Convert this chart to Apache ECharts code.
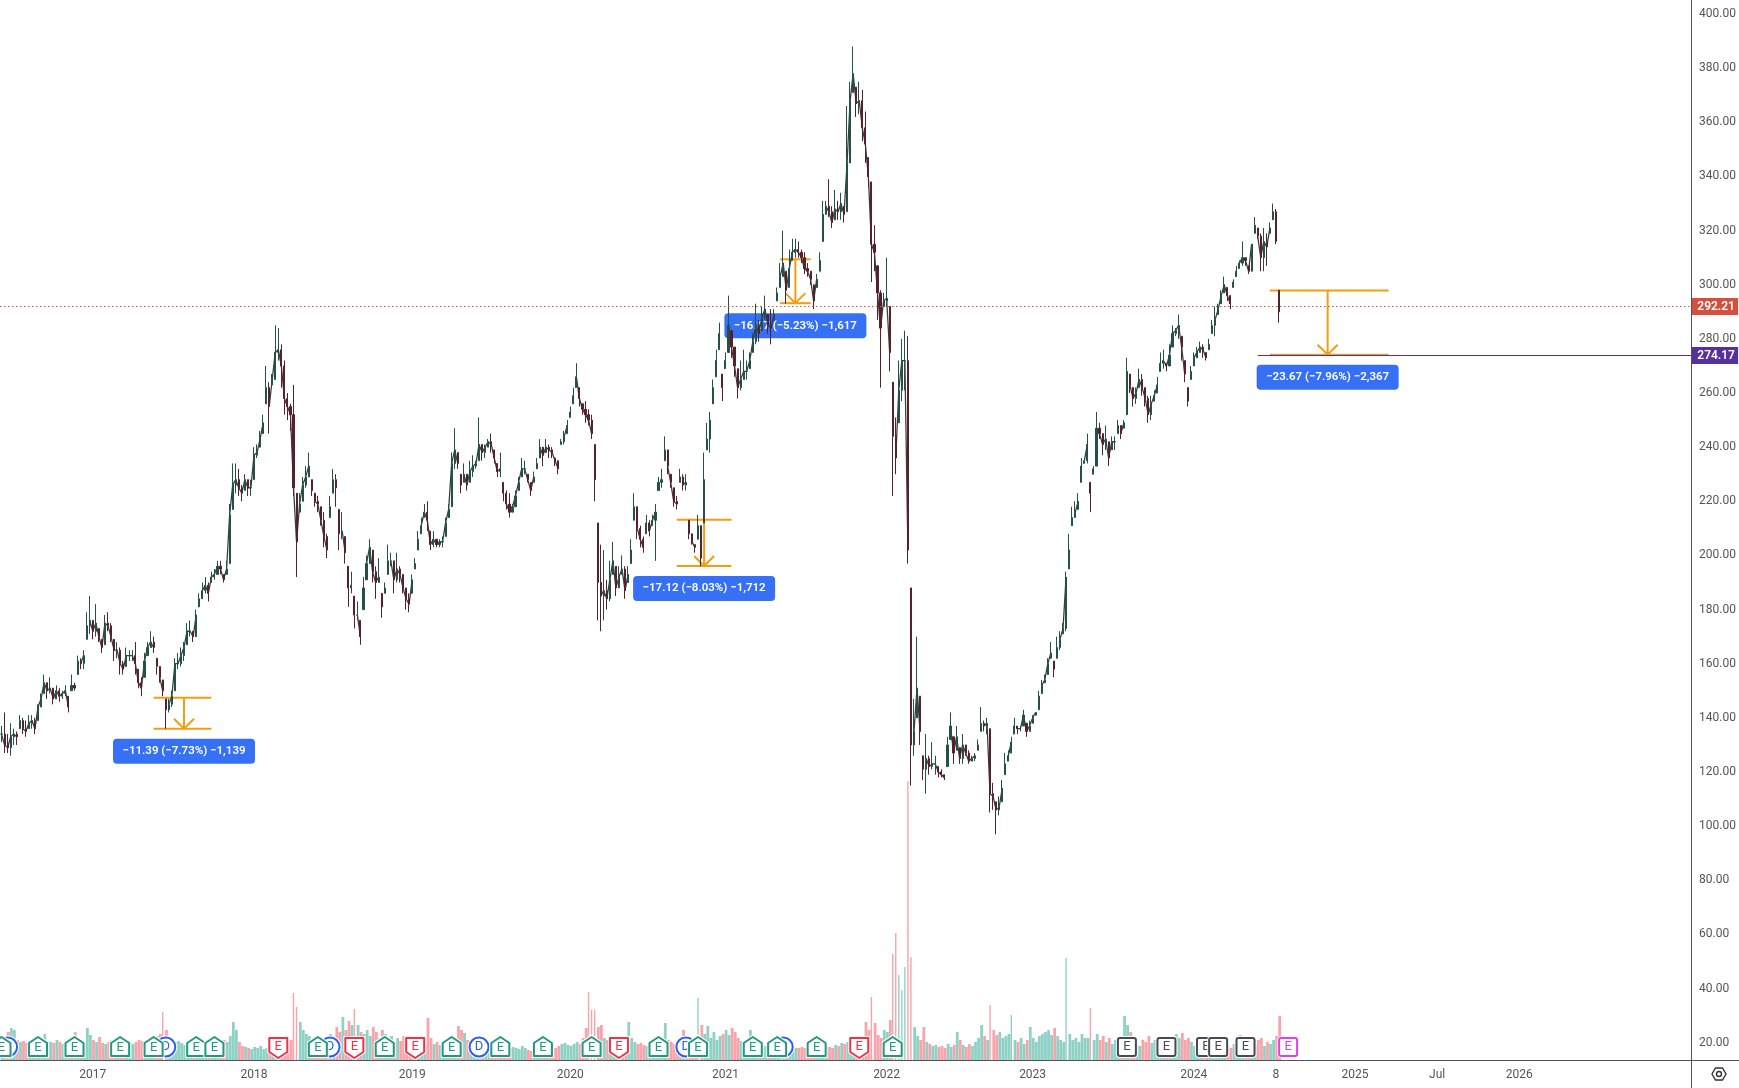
<!DOCTYPE html>
<html>
<head>
<meta charset="utf-8">
<style>html,body{margin:0;padding:0;background:#fff}#c{width:1739px;height:1088px}</style>
<script src="https://cdn.jsdelivr.net/npm/echarts@6/dist/echarts.min.js"></script>
</head>
<body>
<div id="c"></div>
<script>
var highs = [
137,142,134,138,136,135,141,140,139,141,
141,140,145,149,156,153,155,151,152,151,
150,152,148,156,153,163,162,165,179,185,
176,182,173,169,178,179,175,169,168,166,
161,166,165,165,168,158,155,164,168,172,
170,162,159,154,147,147,150,162,164,166,
168,175,176,172,180,186,190,192,190,194,
195,198,198,193,198,219,234,234,232,226,
230,228,228,240,241,246,252,270,264,267,
285,284,278,272,260,256,263,223,223,229,
233,238,228,223,222,218,216,208,222,232,
230,217,216,207,196,194,185,183,176,192,
200,206,202,196,199,186,190,204,201,198,
201,196,193,188,186,193,199,209,214,219,
220,209,209,206,206,207,214,219,238,247,
238,230,234,230,235,237,235,251,241,241,
243,245,239,234,238,227,224,223,219,224,
229,236,235,230,227,231,236,243,240,243,
241,240,236,235,243,246,250,255,262,271,
262,256,257,254,252,241,212,204,202,191,
198,205,196,196,200,196,196,206,223,218,
211,207,215,213,215,219,229,232,244,239,
230,225,222,232,230,230,213,208,204,215,
211,238,249,253,265,276,286,267,275,296,
283,277,269,272,276,272,275,282,293,287,
292,296,289,291,291,299,308,320,305,313,
317,317,316,313,312,308,305,300,304,312,
331,331,339,329,335,331,334,329,366,375,
388,373,375,372,364,347,338,322,307,298,
297,310,292,264,251,272,280,283,281,188,
147,170,148,126,134,126,131,126,122,121,
119,133,142,133,137,129,134,130,128,126,
127,132,144,139,140,136,116,109,111,117,
127,128,133,140,137,137,143,138,139,141,
142,150,154,156,162,168,161,170,172,175,
194,208,218,220,223,236,236,245,227,233,
253,249,245,248,242,244,244,250,248,250,
273,267,262,262,269,267,262,259,259,261,
266,275,276,271,278,285,284,289,281,272,
262,270,275,277,279,278,275,280,287,292,
293,298,303,299,296,302,307,309,316,310,
307,315,325,321,319,321,319,323,330,328,
298];
var lows = [
131,127,127,126,130,130,136,134,133,136,
136,134,139,144,149,147,149,145,147,146,
147,148,142,150,150,156,158,158,169,171,
169,170,168,164,167,172,168,161,162,156,
156,159,161,161,156,151,148,155,163,166,
164,156,153,148,136,142,144,150,158,159,
161,167,170,168,170,181,184,186,183,190,
191,193,193,190,193,197,217,223,222,220,
224,222,222,228,236,240,245,256,245,263,
265,272,262,252,250,246,222,192,216,220,
225,229,222,218,216,211,203,199,214,223,
218,202,206,197,181,186,173,176,167,180,
191,197,190,184,190,177,186,193,196,186,
190,190,186,180,179,186,195,202,208,214,
209,202,203,203,203,203,207,214,218,232,
232,223,227,224,227,229,232,235,235,236,
240,238,234,229,229,220,217,214,216,218,
224,229,230,227,222,227,232,236,233,238,
236,236,233,230,241,241,245,251,256,262,
255,252,249,248,243,220,176,172,176,180,
183,193,185,188,193,184,190,197,213,206,
203,201,208,207,211,198,224,225,235,230,
225,218,217,227,224,224,206,204,201,206,
196,212,239,238,256,266,276,257,269,275,
273,266,258,261,265,265,269,275,278,279,
283,287,282,278,287,294,299,303,293,299,
309,310,310,308,304,303,300,291,299,305,
316,326,325,321,324,324,324,323,327,345,
371,362,363,353,345,336,301,305,287,262,
292,292,268,222,230,249,257,261,197,115,
126,140,130,117,112,119,121,119,118,118,
117,122,132,123,128,123,123,126,123,124,
124,128,135,135,134,105,106,97,104,109,
119,124,127,134,134,135,137,133,135,138,
141,143,149,153,156,162,155,162,165,171,
172,195,211,214,217,227,234,234,216,230,
233,243,237,239,233,239,239,245,243,247,
252,260,255,256,262,259,255,249,250,257,
260,268,269,268,270,277,281,280,272,264,
255,265,270,273,275,273,272,276,282,281,
289,293,297,294,291,299,303,306,307,307,
304,305,319,317,305,305,307,319,324,315,
286];
var closes = [
134,130,129,133,134,133,139,136,135,138,
139,136,144,147,153,150,151,147,150,148,
149,150,144,152,151,161,160,163,174,176,
172,175,170,166,175,174,170,165,165,160,
158,163,163,163,160,153,151,161,166,168,
166,159,155,150,143,145,148,160,160,163,
166,172,172,170,178,184,187,189,186,192,
193,196,195,191,195,215,226,228,225,223,
228,225,225,237,238,243,249,262,255,265,
275,276,270,258,255,252,225,205,219,226,
229,233,224,220,219,213,207,202,218,228,
225,208,209,201,188,189,178,178,170,188,
197,203,194,190,192,181,188,198,198,191,
195,193,188,184,182,191,197,206,211,216,
213,204,206,204,205,205,212,217,234,239,
234,226,230,226,231,233,234,241,238,240,
242,241,236,231,232,223,219,216,218,222,
227,232,232,228,224,229,234,240,237,240,
239,238,235,232,242,244,248,253,259,266,
258,254,252,250,245,228,190,185,187,184,
191,198,188,192,195,187,193,202,218,210,
206,203,212,209,213,216,227,228,239,233,
227,220,219,229,226,227,208,205,203,211,
199,228,243,250,262,272,282,262,272,285,
277,270,262,265,268,268,272,279,285,282,
288,291,285,284,289,297,303,308,298,306,
312,313,312,310,306,305,302,294,302,309,
326,329,327,323,328,327,330,326,345,368,
378,367,368,358,352,340,315,312,297,284,
294,295,275,244,236,261,272,272,202,130,
135,151,135,121,125,122,123,123,120,119,
118,130,137,127,133,125,130,127,124,125,
126,130,138,137,138,112,111,106,107,114,
123,126,131,137,136,136,141,135,137,140,
142,148,152,154,160,164,158,166,169,173,
192,202,214,216,220,233,235,241,223,232,
247,245,241,243,236,242,242,248,245,249,
268,263,258,260,265,262,258,252,256,259,
263,271,272,270,274,282,283,285,277,267,
257,268,273,275,277,276,273,278,285,287,
291,296,300,296,293,301,305,308,310,309,
305,315,322,318,310,316,314,321,327,316,
290];
var volumes = [
24,22,28,32,30,20,18,19,17,16,
18,20,18,17,26,19,18,17,20,18,
16,17,15,22,28,18,17,16,32,25,
20,18,23,17,16,18,20,15,17,16,
15,18,17,16,18,20,19,17,18,22,
20,24,26,48,30,22,16,18,19,17,
15,16,18,14,17,19,16,15,18,17,
16,15,14,20,18,24,38,30,18,14,
13,12,11,13,12,14,11,12,13,14,
14,16,18,15,17,20,67,53,38,30,
26,24,20,18,19,22,20,24,26,22,
33,28,43,30,39,35,51,35,28,26,
30,24,33,28,22,30,26,20,24,18,
22,19,24,18,16,15,17,20,18,14,
42,22,16,18,15,14,17,20,19,16,
34,30,27,20,18,16,15,14,13,12,
13,12,14,13,12,14,13,12,13,12,
11,14,12,10,9,12,11,13,12,14,
13,15,12,14,16,17,15,14,16,18,
16,22,32,68,50,50,33,35,22,20,
18,17,20,16,15,18,38,22,18,16,
17,15,14,13,18,16,14,22,37,20,
18,16,15,14,30,18,16,14,15,62,
35,26,34,22,28,20,24,26,30,25,
32,28,22,19,16,18,30,22,20,16,
15,14,13,12,12,11,12,14,13,12,
11,12,12,13,12,11,13,12,14,15,
17,14,13,12,15,14,17,16,18,17,
20,18,16,24,38,30,63,37,25,22,
30,28,40,106,127,85,70,93,279,103,
33,24,20,33,18,16,14,15,13,14,
12,16,13,15,28,20,15,13,16,14,
18,22,35,24,20,55,30,25,28,22,
24,26,45,20,18,22,16,20,33,22,
18,24,26,28,30,25,32,24,20,18,
102,26,20,22,18,26,22,22,52,20,
26,20,24,18,22,16,20,18,24,44,
35,28,22,16,14,20,18,24,17,20,
16,22,24,18,14,20,26,22,27,20,
22,18,14,10,7,8,12,14,12,15,
14,16,18,14,12,16,20,25,18,15,
13,17,15,20,22,14,18,16,20,24,
44];

var slotCount = 556;
var xTickSlots  = [30,83,135,187,238,291,339,392,419,445,472,499];
var xTickLabels = ['2017','2018','2019','2020','2021','2022','2023','2024','8','2025','Jul','2026'];
var priceTicks  = [20,40,60,80,100,120,140,160,180,200,220,240,260,280,300,320,340,360,380,400];

var levelPrices = [292.21, 274.17];
var levelStart  = [0, 413];
var levelColors = ['#d4503c', '#56309f'];
var levelDash   = [[1.5,2.5], null];

var toolFrom  = [50, 222, 256, 417];
var toolTo    = [69, 240, 266, 456];
var toolMid   = [60, 231, 261, 436];
var toolTop   = [147.4, 213.2, 309.4, 297.84];
var toolBot   = [136.0, 196.1, 293.2, 274.17];
var toolText  = ['\u221211.39 (\u22127.73%) \u22121,139','\u221217.12 (\u22128.03%) \u22121,712','\u221216.17 (\u22125.23%) \u22121,617','\u221223.67 (\u22127.96%) \u22122,367'];

var eventSlots = [2,54,108,157,225,257, 0,12,24,39,50,64,70,91,104,116,126,136,148,164,178,194,203,216,229,247,255,268,282,293, 370,383,396,400,409,423];
var eventKinds = ['D','D','D','D','D','D',
 'U','U','U','U','U','U','U','R','U','R','U','R','U','U','U','U','R','U','U','U','U','U','R','U',
 'N','N','N','N','N','P'];

var FONT = 'Roboto, "Noto Sans", sans-serif';
var categories = [];
for (var n = 0; n < slotCount; n++) categories.push(String(n));

var candleData = [], closeLine = [], volData = [], volThin = [];
closes.forEach(function(c, i){
  var prev = i ? closes[i-1] : c;
  var open = Math.min(highs[i], Math.max(lows[i], prev));
  candleData.push([open, c, lows[i], highs[i]]);
  var gap = i && (lows[i] > highs[i-1] || highs[i] < lows[i-1]);
  closeLine.push(gap ? null : c);
  var col = c >= open ? 'rgba(8,153,129,0.45)' : 'rgba(242,54,69,0.45)';
  var tall = volumes[i] >= 45;
  volData.push(tall ? null : {value: volumes[i], itemStyle:{color:col}});
  volThin.push(tall ? {value: volumes[i], itemStyle:{color:col}} : null);
});

var chart = echarts.init(document.getElementById('c'), null, {renderer:'canvas'});

function renderTool(params, api){
  var i = params.dataIndex;
  var a = api.coord([toolFrom[i], toolTop[i]]);
  var b = api.coord([toolTo[i], toolBot[i]]);
  var cx = api.coord([toolMid[i], toolTop[i]])[0];
  var st = {stroke:'#f59c0f', lineWidth:2, fill:null};
  return {type:'group', children:[
    {type:'line', shape:{x1:a[0],y1:a[1],x2:b[0],y2:a[1]}, style:st},
    {type:'line', shape:{x1:a[0],y1:b[1],x2:b[0],y2:b[1]}, style:st},
    {type:'line', shape:{x1:cx,y1:a[1],x2:cx,y2:b[1]}, style:st},
    {type:'polyline', shape:{points:[[cx-10,b[1]-10],[cx,b[1]],[cx+10,b[1]-10]]}, style:st},
    {type:'rect', shape:{x:cx-71,y:b[1]+10,width:142,height:25,r:4}, style:{fill:'#3670f6'}},
    {type:'text', x:cx, y:b[1]+22.5, style:{text:toolText[i], fill:'#fff', font:'600 11.5px '+FONT, align:'center', verticalAlign:'middle'}}
  ]};
}
function renderLevel(params, api){
  var i = params.dataIndex;
  var cs = params.coordSys;
  var y = Math.round(api.coord([0, levelPrices[i]])[1]) + 0.5;
  var x0 = levelStart[i] === 0 ? cs.x : api.coord([levelStart[i], levelPrices[i]])[0];
  var xr = cs.x + cs.width;
  return {type:'group', children:[
    {type:'line', shape:{x1:x0,y1:y,x2:xr,y2:y}, style:{stroke:levelColors[i], lineWidth:1, lineDash:levelDash[i]}},
    {type:'rect', shape:{x:xr,y:y-8.5,width:47,height:17}, style:{fill:levelColors[i]}},
    {type:'text', x:xr+25, y:y+0.5, style:{text:levelPrices[i].toFixed(2), fill:'#fff', font:'600 12px '+FONT, align:'center', verticalAlign:'middle'}}
  ]};
}
var kindColor = {D:'#2c5fe8', U:'#1f9a7e', R:'#ef3347', N:'#474a54', P:'#e040e8'};
function renderEvent(params, api){
  var i = params.dataIndex;
  var k = eventKinds[i];
  var cs = params.coordSys;
  var x = api.coord([eventSlots[i], 100])[0];
  var y = cs.y + cs.height - 13;
  var col = kindColor[k];
  var pts;
  if (k === 'U') pts = [[-9,-4],[0,-10],[9,-4],[9,9],[-9,9]];
  if (k === 'R') pts = [[-9,-9],[9,-9],[9,5],[0,11],[-9,5]];
  var halo = {fill:'#fff', stroke:'rgba(255,255,255,0.9)', lineWidth:4};
  var st = {fill:'#fff', stroke:col, lineWidth:2, lineJoin:'round'};
  var kids = [];
  function mk(t, s){ kids.push({type:t, x:x, y:y, shape:s, style:halo}); kids.push({type:t, x:x, y:y, shape:s, style:st}); }
  if (k === 'D') mk('circle', {cx:0,cy:0,r:9.5});
  else if (pts) mk('polygon', {points:pts});
  else mk('rect', {x:-9,y:-9,width:18,height:18,r:2});
  kids.push({type:'text', x:x, y:y + (k==='U'?1:0), style:{text:k==='D'?'D':'E', fill:col, font:'13px '+FONT, align:'center', verticalAlign:'middle'}});
  return {type:'group', children:kids};
}

chart.setOption({
  animation:false,
  backgroundColor:'#ffffff',
  textStyle:{fontFamily:FONT},
  grid:{left:0, top:0, width:1692, height:1060, containLabel:false},
  xAxis:{
    type:'category', data:categories, boundaryGap:true,
    axisLine:{show:false}, axisTick:{show:false}, splitLine:{show:false},
    axisLabel:{
      color:'#555', fontSize:12, fontFamily:FONT, margin:9, hideOverlap:false,
      interval:function(i){ return xTickSlots.indexOf(i) >= 0; },
      formatter:function(v){ return xTickLabels[xTickSlots.indexOf(+v)]; }
    }
  },
  yAxis:[
    {type:'value', position:'right', min:13.6, max:405.2, scale:true,
     axisLine:{show:false}, axisTick:{show:false}, splitLine:{show:false},
     axisLabel:{customValues:priceTicks, color:'#555', fontSize:12, fontFamily:FONT, margin:8, padding:[2,0,0,0],
       formatter:function(v){ return (+v).toFixed(2); }}},
    {type:'value', min:0, max:1060, show:false, splitLine:{show:false}}
  ],
  series:[
    {type:'bar', name:'Volume', yAxisIndex:1, data:volData, barWidth:2.8, barGap:'-100%', z:1, silent:true},
    {type:'bar', name:'Volume spikes', yAxisIndex:1, data:volThin, barWidth:1.4, barGap:'-100%', z:1, silent:true},
    {type:'custom', name:'Measures', data:toolText.map(function(t,i){return [toolFrom[i],toolTop[i]];}), renderItem:renderTool, z:2, silent:true},
    {type:'line', name:'Close', data:closeLine, showSymbol:false, symbol:'none', connectNulls:false, z:3, silent:true,
     lineStyle:{color:'#2e3533', width:1.3, opacity:0.95}},
    {type:'candlestick', name:'Price', data:candleData, barWidth:1.6, z:4, silent:true,
     itemStyle:{color:'#24504a', color0:'#56202c', borderColor:'#24504a', borderColor0:'#56202c', borderWidth:1}},
    {type:'custom', name:'Levels', data:levelPrices.map(function(p,i){return [levelStart[i],p];}), renderItem:renderLevel, z:5, silent:true},
    {type:'custom', name:'Events', data:eventSlots.map(function(s){return [s,100];}), renderItem:renderEvent, z:6, silent:true}
  ],
  graphic:[
    {type:'line', z:10, shape:{x1:1691.5,y1:0,x2:1691.5,y2:1088}, style:{stroke:'#50535e',lineWidth:1}},
    {type:'line', z:10, shape:{x1:0,y1:1060.5,x2:1739,y2:1060.5}, style:{stroke:'#50535e',lineWidth:1}},
    {type:'polygon', z:10, shape:{points:[[1712,1074],[1715.5,1068],[1722.5,1068],[1726,1074],[1722.5,1080],[1715.5,1080]]}, style:{fill:'#fff',stroke:'#333',lineWidth:1.4}},
    {type:'circle', z:10, shape:{cx:1719,cy:1074,r:2.5}, style:{fill:'#fff',stroke:'#333',lineWidth:1.4}}
  ]
});
</script>
</body>
</html>
